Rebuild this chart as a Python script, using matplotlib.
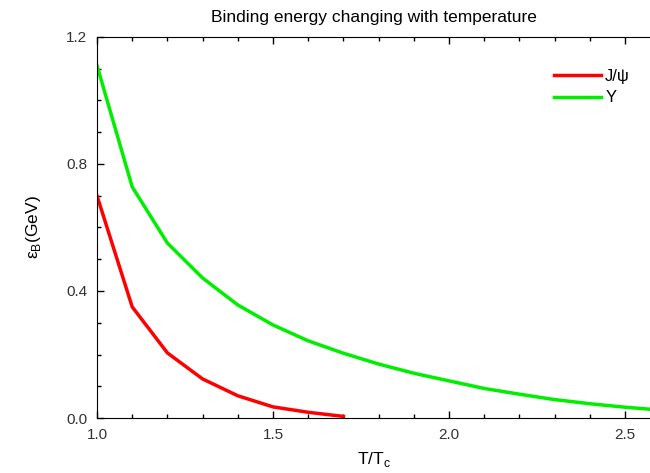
import matplotlib.pyplot as plt
from matplotlib.ticker import MultipleLocator

plt.rcParams['font.family'] = ['Liberation Sans', 'DejaVu Sans']

# T/Tc values and binding energies
t_jpsi = [1.0, 1.1, 1.2, 1.3, 1.4, 1.5, 1.6, 1.7]
eb_jpsi = [0.70, 0.35, 0.205, 0.123, 0.070, 0.035, 0.018, 0.005]

t_upsilon = [1.0, 1.1, 1.2, 1.3, 1.4, 1.5, 1.6, 1.7, 1.8, 1.9, 2.0,
             2.1, 2.2, 2.3, 2.4, 2.5, 2.6]
eb_upsilon = [1.11, 0.728, 0.551, 0.441, 0.356, 0.293, 0.243, 0.204, 0.170,
              0.141, 0.117, 0.093, 0.075, 0.058, 0.045, 0.034, 0.025]

series_labels = ['J/\u03c8', '\u03a5']

fig = plt.figure(figsize=(6.5, 4.73), dpi=100)
ax = fig.add_axes([97 / 650, 55 / 473, 1 - 97 / 650, 381 / 473])

ax.plot(t_jpsi, eb_jpsi, color='#ff0000', lw=2.5, label=series_labels[0])
ax.plot(t_upsilon, eb_upsilon, color='#00ee00', lw=2.5, label=series_labels[1])

ax.set_xlim(1.0, 2.571)
ax.set_ylim(0.0, 1.2)
ax.xaxis.set_major_locator(MultipleLocator(0.5))
ax.xaxis.set_minor_locator(MultipleLocator(0.1))
ax.yaxis.set_major_locator(MultipleLocator(0.4))
ax.yaxis.set_minor_locator(MultipleLocator(0.1))
ax.xaxis.set_major_formatter(plt.FormatStrFormatter('%.1f'))
ax.yaxis.set_major_formatter(plt.FormatStrFormatter('%.1f'))

ax.spines['right'].set_visible(False)
ax.tick_params(which='both', direction='in', top=True, right=False,
               labelsize=11, colors='black', labelcolor='#333333', width=1)
ax.tick_params(which='major', length=5, pad=7)
ax.tick_params(which='minor', length=3)

ax.set_title('Binding energy changing with temperature', fontsize=12.5, pad=11)
ax.set_xlabel('T/T$_\\mathregular{c}$', fontsize=12.5)
ax.xaxis.set_label_coords(0.5, -0.085, transform=ax.transAxes)
ax.set_ylabel('\u03b5$_\\mathregular{B}$(GeV)', fontsize=12.5)
ax.yaxis.set_label_coords(-0.097, 0.5)

ax.legend(loc='upper left', bbox_to_anchor=(0.8, 0.956), frameon=False,
          fontsize=12, handlelength=2.8, handletextpad=0.25, labelspacing=0.4)

fig.savefig('out.png', dpi=100)
